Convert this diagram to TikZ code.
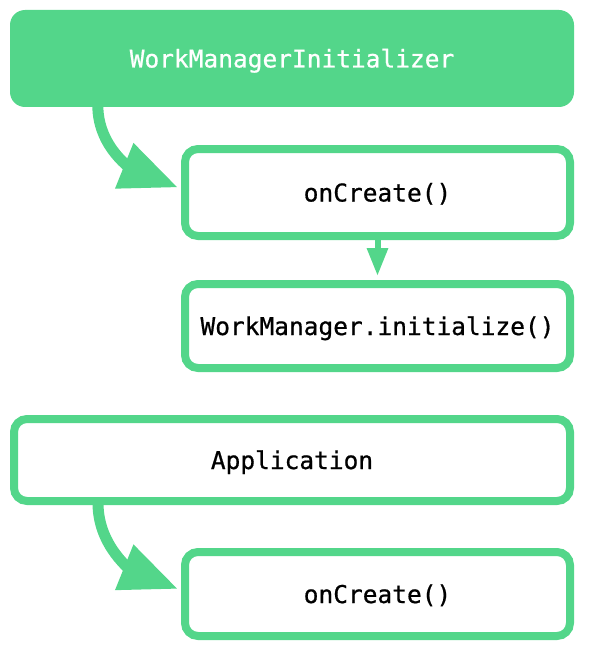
\documentclass[tikz,border=0pt]{standalone}
\usepackage{fontspec}
\newfontfamily\codefont{DejaVu Sans Mono}[FakeBold=0.7]
\usetikzlibrary{arrows.meta,calc}
\definecolor{lgreen}{RGB}{83,214,138}
\tikzset{
  codetext/.style={font=\codefont\fontsize{24.5}{29}\selectfont, text height=18pt, text depth=0pt},
  box/.style={codetext, draw=lgreen, line width=8pt, rounded corners=13pt, fill=white, inner sep=0pt, text=black},
  bigbox/.style={codetext, fill=lgreen, draw=none, rounded corners=15pt, inner sep=0pt, text=white},
  curvearrow/.style={draw=lgreen, line width=11pt, -{Triangle[length=58pt,width=46pt]}},
  smallarrow/.style={draw=lgreen, line width=6pt, -{Triangle[length=28pt,width=20pt]}}
}
\begin{document}
\begin{tikzpicture}[x=1pt,y=-1pt]
\useasboundingbox (0,0) rectangle (591,650);
\node[bigbox, minimum width=564pt, minimum height=97pt] (wmi) at (292,58.5) {WorkManagerInitializer};
\node[box, minimum width=385pt, minimum height=87pt] (oc1) at (377.5,192.5) {onCreate()};
\node[box, minimum width=385pt, minimum height=84pt] (wm) at (377.5,326) {WorkManager.initialize()};
\node[box, minimum width=556pt, minimum height=82pt] (app) at (292,460) {Application};
\node[box, minimum width=385pt, minimum height=84pt] (oc2) at (377.5,594) {onCreate()};
\coordinate (s1) at ($(wmi.south west)+(88,-2)$);
\coordinate (s2) at ($(app.south west)+(88,-2)$);
\coordinate (t1) at ($(oc1.west)+(-3,-5)$);
\coordinate (t2) at ($(oc2.west)+(-3,-5)$);
\draw[curvearrow] (s1) to[out=-90,in=158] (t1);
\draw[curvearrow] (s2) to[out=-90,in=158] (t2);
\draw[smallarrow] (oc1.south) -- ($(wm.north)+(0,-4)$);
\end{tikzpicture}
\end{document}
